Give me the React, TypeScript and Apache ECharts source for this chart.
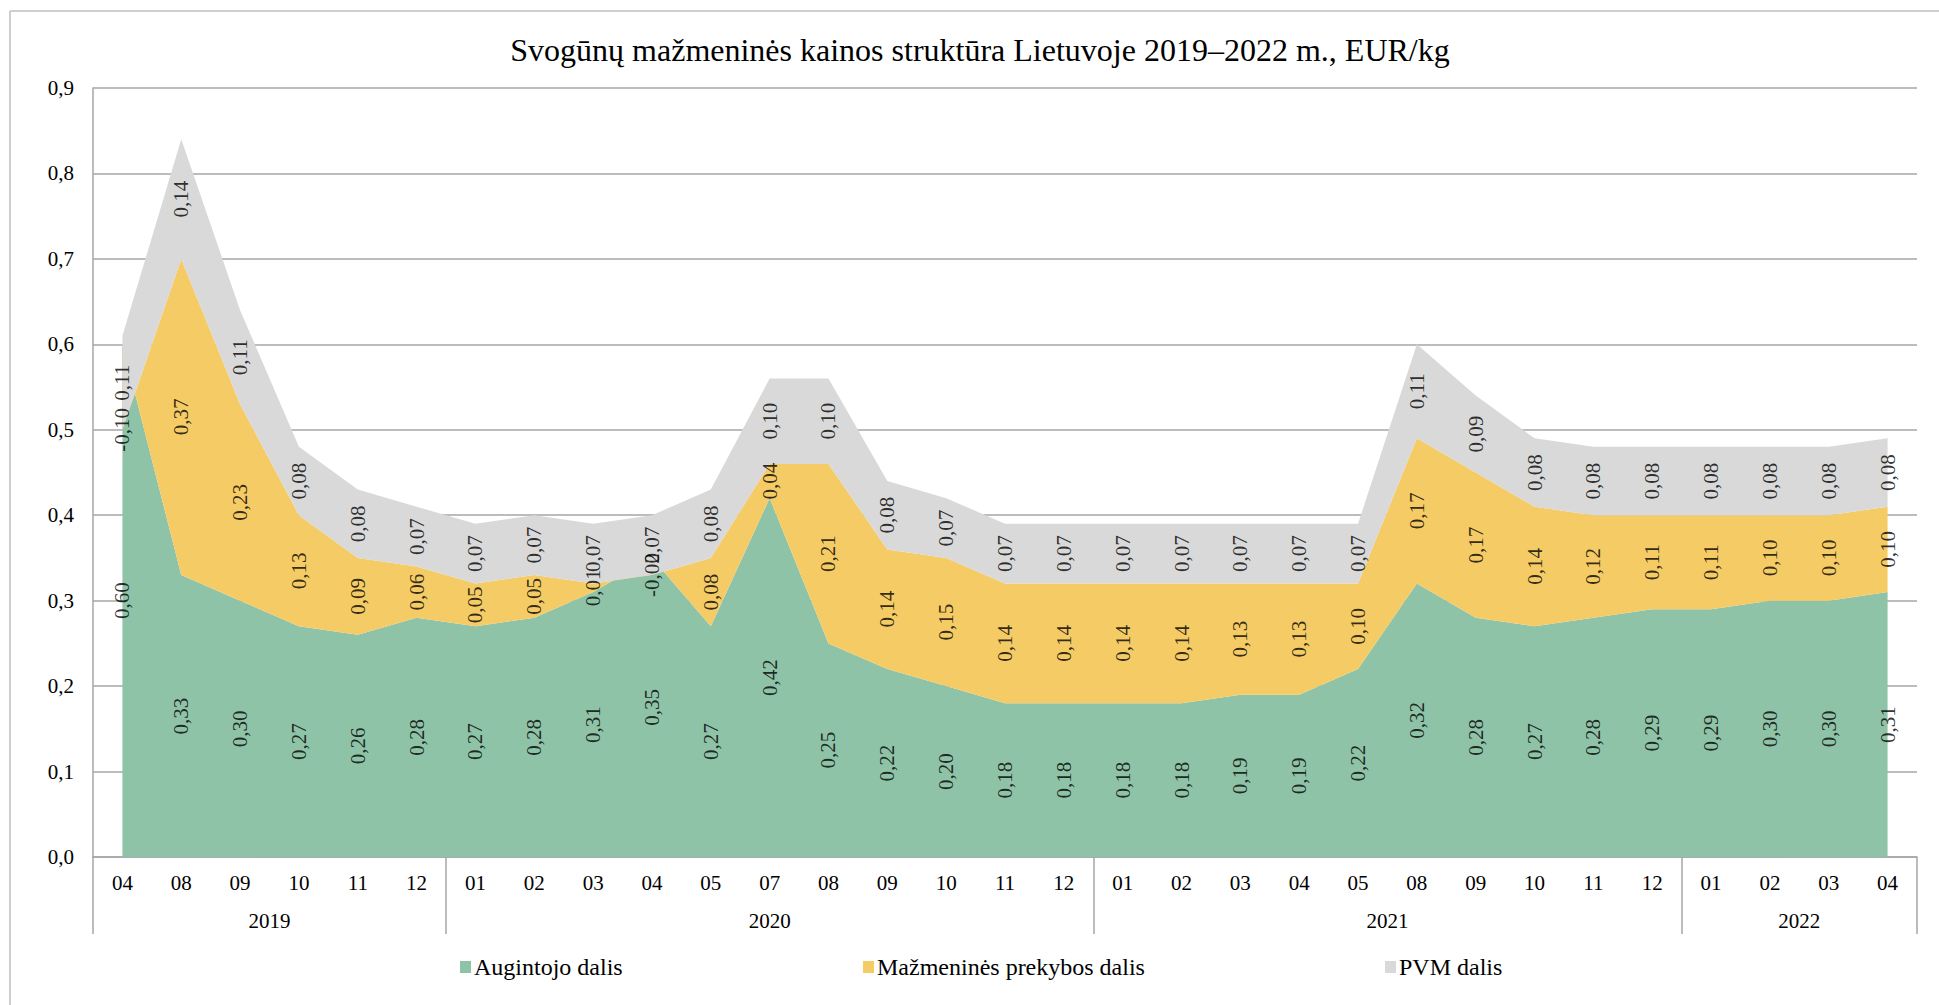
import React, { useEffect, useRef } from 'react';
import * as echarts from 'echarts';

const months = ['04','08','09','10','11','12','01','02','03','04','05','07','08','09','10','11','12','01','02','03','04','05','08','09','10','11','12','01','02','03','04'];
const yearNames = ['2019', '2020', '2021', '2022'];
const yearSizes = [6, 11, 10, 4];

const seriesNames = ['Augintojo dalis', 'Mažmeninės prekybos dalis', 'PVM dalis'];
const grower = [0.60,0.33,0.30,0.27,0.26,0.28, 0.27,0.28,0.31,0.35,0.27,0.42,0.25,0.22,0.20,0.18,0.18, 0.18,0.18,0.19,0.19,0.22,0.32,0.28,0.27,0.28,0.29, 0.29,0.30,0.30,0.31];
const retail = [-0.10,0.37,0.23,0.13,0.09,0.06, 0.05,0.05,0.01,-0.02,0.08,0.04,0.21,0.14,0.15,0.14,0.14, 0.14,0.14,0.13,0.13,0.10,0.17,0.17,0.14,0.12,0.11, 0.11,0.10,0.10,0.10];
const vat = [0.11,0.14,0.11,0.08,0.08,0.07, 0.07,0.07,0.07,0.07,0.08,0.10,0.10,0.08,0.07,0.07,0.07, 0.07,0.07,0.07,0.07,0.07,0.11,0.09,0.08,0.08,0.08, 0.08,0.08,0.08,0.08];
const colors = ['#8FC3A7', '#F5CB65', '#D9D9D9'];

const FONT = "'Liberation Serif', 'Times New Roman', serif";
const fmt2 = (v: number) => v.toFixed(2).replace('.', ',');
const fmt1 = (v: number) => v.toFixed(1).replace('.', ',');

export default function App() {
  const ref = useRef<HTMLDivElement>(null);
  useEffect(() => {
    document.body.style.margin = '0';
    document.body.style.overflow = 'hidden';
    if (!ref.current) return;
    const chart = echarts.init(ref.current, undefined, { renderer: 'svg' });
    const all = [grower, retail, vat];
    const n = months.length;

    // secondary axis (year row) built from group sizes: 2n+1 half-slot points
    const yearAxisData: string[] = new Array(2 * n + 1).fill('');
    const boundaryIdx = new Set<number>();
    let start = 0;
    yearSizes.forEach((size, g) => {
      const end = start + size;
      boundaryIdx.add(2 * start);
      boundaryIdx.add(2 * end);
      yearAxisData[start + end] = yearNames[g];
      start = end;
    });

    const areaSeries = all.map((arr, s) => ({
      name: seriesNames[s],
      type: 'line',
      stack: 'total',
      stackStrategy: 'all',
      data: arr,
      xAxisIndex: 0,
      yAxisIndex: 0,
      showSymbol: false,
      symbol: 'none',
      lineStyle: { width: 0, opacity: 0 },
      areaStyle: { color: colors[s], opacity: 1 },
      itemStyle: { color: colors[s] },
      silent: true,
    }));

    const labelSeries = all.map((arr, s) => ({
      name: 'lbl' + s,
      type: 'scatter',
      xAxisIndex: 0,
      yAxisIndex: 0,
      symbolSize: 1,
      itemStyle: { color: 'rgba(0,0,0,0)' },
      silent: true,
      z: 10,
      data: arr.map((v, i) => {
        let base = 0;
        for (let k = 0; k < s; k++) base += all[k][i];
        // positive parts: label in the middle of the band; negative parts: at the stacked end
        return [i, v >= 0 ? base + v / 2 : base + v, v];
      }),
      label: {
        show: true,
        position: 'inside',
        rotate: 90,
        formatter: (p: any) => fmt2(p.value[2]),
        fontFamily: FONT,
        fontSize: 21,
        color: '#000',
      },
    }));

    const legendLefts = [460, 863, 1385];

    chart.setOption({
      animation: false,
      textStyle: { fontFamily: FONT },
      title: {
        text: 'Svogūnų mažmeninės kainos struktūra Lietuvoje 2019–2022 m., EUR/kg',
        left: 980,
        top: 34,
        padding: 0,
        textAlign: 'center',
        textStyle: { fontFamily: FONT, fontSize: 32, fontWeight: 'normal', color: '#000' },
      },
      legend: seriesNames.map((nm, s) => ({
        data: [nm],
        left: legendLefts[s],
        top: 955,
        padding: 0,
        icon: 'rect',
        itemWidth: 11,
        itemHeight: 12,
        itemGap: 6,
        selectedMode: false,
        textStyle: { fontFamily: FONT, fontSize: 24, color: '#000', padding: [0, 0, 0, -2] },
      })),
      grid: { left: 93, right: 22, top: 88, bottom: 148, containLabel: false, outerBoundsMode: 'none' },
      xAxis: [
        {
          type: 'category',
          position: 'bottom',
          data: months,
          boundaryGap: true,
          axisLine: { show: true, lineStyle: { color: '#A6A6A6', width: 1.5 } },
          axisTick: { show: false },
          axisLabel: { interval: 0, margin: 15, fontFamily: FONT, fontSize: 21, color: '#000' },
          splitLine: { show: false },
        },
        {
          type: 'category',
          position: 'bottom',
          data: yearAxisData,
          boundaryGap: false,
          axisLine: { show: false },
          axisTick: {
            show: true,
            length: 77,
            interval: (idx: number) => boundaryIdx.has(idx),
            lineStyle: { color: '#A6A6A6', width: 1.5 },
          },
          axisLabel: {
            show: true,
            interval: (idx: number) => yearAxisData[idx] !== '',
            margin: 53,
            fontFamily: FONT,
            fontSize: 21,
            color: '#000',
          },
          splitLine: { show: false },
        },
      ],
      yAxis: {
        type: 'value',
        min: 0,
        max: 0.9,
        interval: 0.1,
        axisLine: { show: true, lineStyle: { color: '#A6A6A6', width: 1.5 } },
        axisTick: { show: false },
        axisLabel: { formatter: (v: number) => fmt1(v), margin: 19, fontFamily: FONT, fontSize: 21, color: '#000' },
        splitLine: { show: true, lineStyle: { color: '#A6A6A6', width: 1.5 } },
      },
      graphic: [
        { type: 'line', shape: { x1: 10, y1: 11, x2: 1939, y2: 11 }, style: { stroke: '#BFBFBF', lineWidth: 1.5 }, silent: true },
        { type: 'line', shape: { x1: 10, y1: 11, x2: 10, y2: 1005 }, style: { stroke: '#BFBFBF', lineWidth: 1.5 }, silent: true },
      ],
      series: [...areaSeries, ...labelSeries],
    });
    return () => chart.dispose();
  }, []);
  return <div ref={ref} style={{ width: 1939, height: 1005 }} />;
}
